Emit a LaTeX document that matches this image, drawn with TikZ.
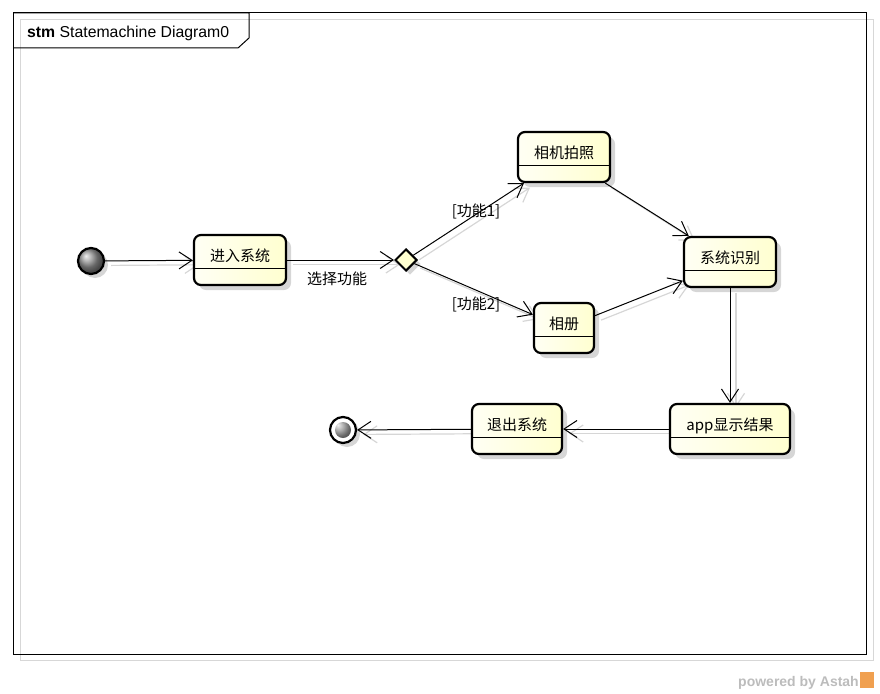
\documentclass[tikz,border=0pt]{standalone}
\usepackage{fontspec}
\setmainfont{Liberation Sans}
\newfontfamily\cjk{Noto Sans CJK SC}
\usetikzlibrary{arrows.meta,shapes.geometric,shadows,backgrounds,positioning}
\definecolor{stlight}{RGB}{255,255,244}
\definecolor{stdark}{RGB}{255,255,208}
\definecolor{shadowgray}{RGB}{214,214,214}
\definecolor{framegray}{RGB}{215,215,215}
\definecolor{astahgray}{RGB}{188,188,188}
\definecolor{astahorange}{RGB}{240,160,80}

\begin{document}
\begin{tikzpicture}[x=1pt, y=-1pt,
  state/.style={draw, line width=2.2pt, rounded corners=7pt,
    minimum width=92pt, minimum height=50pt, inner sep=0pt,
    left color=stlight, right color=stdark,
    font=\cjk\fontsize{15}{18}\selectfont, text height=12pt, text depth=9.6pt,
    drop shadow={shadow xshift=5pt, shadow yshift=-5pt, fill=black!16, opacity=1},
    path picture={\draw[line width=1pt]
      ([yshift=17pt]path picture bounding box.south west) --
      ([yshift=17pt]path picture bounding box.south east);}},
  start/.style={circle, draw, line width=2.2pt, minimum size=26pt, inner sep=0pt,
    ball color=gray!85,
    drop shadow={shadow xshift=4pt, shadow yshift=-4pt, fill=black!16, opacity=1}},
  stop/.style={circle, draw, line width=2.2pt, minimum size=26pt, inner sep=0pt, fill=white,
    drop shadow={shadow xshift=4pt, shadow yshift=-4pt, fill=black!16, opacity=1},
    path picture={\shade[ball color=gray!85]
      (path picture bounding box.center) circle (8pt);}},
  choice/.style={diamond, draw, line width=2pt, minimum size=22pt, inner sep=0pt,
    fill=stdark,
    drop shadow={shadow xshift=4pt, shadow yshift=-4pt, fill=black!16, opacity=1}},
  trans/.style={line width=1pt, -{Straight Barb[length=13pt, width=17pt]}},
  trshadow/.style={trans, draw=shadowgray, line width=1.2pt},
  guard/.style={font=\cjk\fontsize{15}{18}\selectfont, inner sep=0pt}
]
  \useasboundingbox (0,0) rectangle (880,693);

  % frame with its light shadow and the name tab
  \draw[framegray, line width=1pt] (20,20) rectangle (873,660);
  \draw[line width=1pt] (13,13) rectangle (866,654);
  \draw[line width=1pt] (13,13) -- (249,13) -- (249,38) -- (238,48) -- (13,48);
  \node[anchor=west, inner sep=0pt, font=\fontsize{15.8}{18}\selectfont]
    (title) at (27,33) {\textbf{stm} Statemachine Diagram0};

  % states
  \node[start] (init) at (91,261) {};
  \node[state] (enter) at (240,260) {进入系统};
  \node[choice] (branch) at (406,260) {};
  \node[state] (camera) at (564,157) {相机拍照};
  \node[state, minimum width=60pt] (album) at (564,328) {相册};
  \node[state] (recog) at (730,262) {系统识别};
  \node[state, minimum width=120pt] (show) at (730,429) {app显示结果};
  \node[state, minimum width=90pt] (quit) at (517,429) {退出系统};
  \node[stop] (final) at (343,430) {};

  % transitions, shadow first
  \begin{pgfonlayer}{background}
    \begin{scope}[transform canvas={shift={(6pt,-4.5pt)}}]
      \foreach \src/\dst in {init/enter, enter/branch, branch/camera, branch/album,
          camera/recog, album/recog, recog/show, show/quit, quit/final}
        \draw[trshadow] (\src) -- (\dst);
    \end{scope}
  \end{pgfonlayer}
  \foreach \src/\dst in {init/enter, enter/branch, branch/camera, branch/album,
      camera/recog, album/recog, recog/show, show/quit, quit/final}
    \draw[trans] (\src) -- (\dst);

  % guards and trigger
  \node[guard] (lblchoose) at (337,279) {选择功能};
  \node[guard] (lblone) at (476,211) {[功能1]};
  \node[guard] (lbltwo) at (476,304) {[功能2]};

  % tool mark
  \node[anchor=base east, inner sep=0pt, text=astahgray,
    font=\bfseries\fontsize{14}{16}\selectfont] (powered) at (859,686) {powered by Astah};
  \fill[astahorange] (860,672) rectangle (874,688);
\end{tikzpicture}
\end{document}
